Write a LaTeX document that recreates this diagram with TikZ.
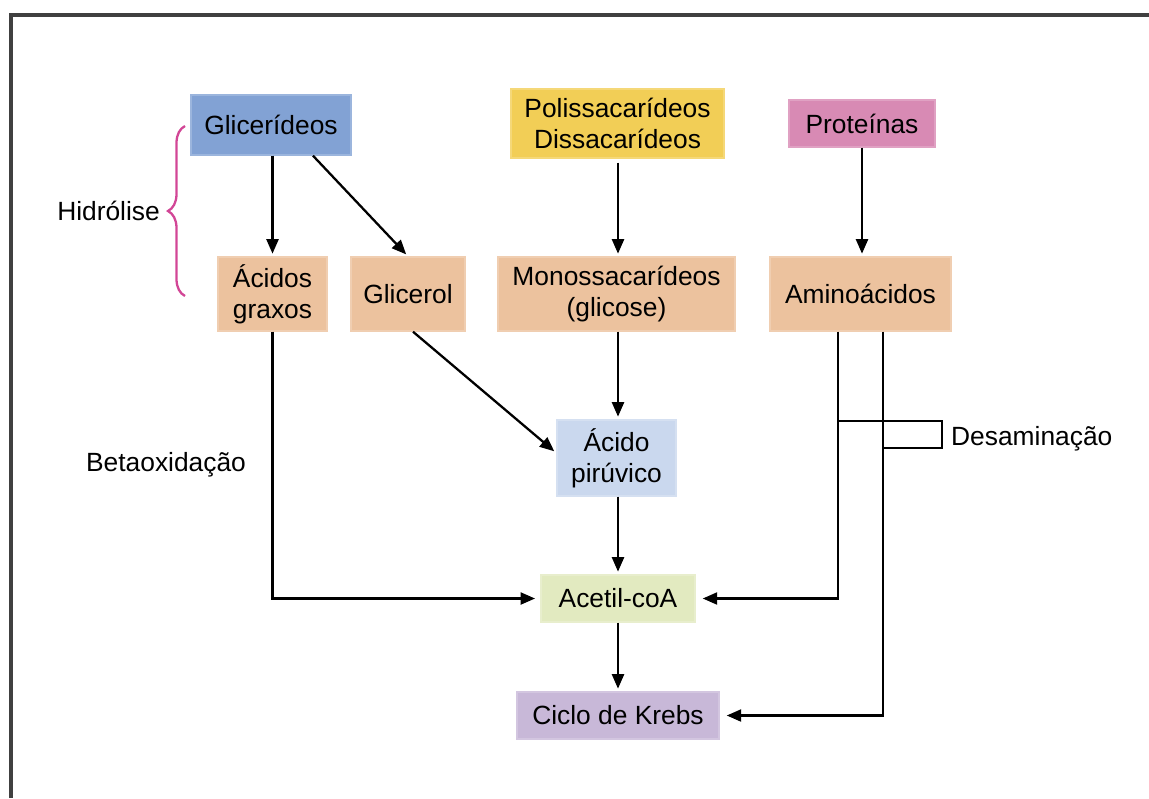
\documentclass[tikz,border=0pt]{standalone}
\usepackage{fontspec}
\setmainfont{Liberation Sans}
\usetikzlibrary{arrows.meta, decorations.pathreplacing}
\definecolor{glicblue}{RGB}{130,162,212}
\definecolor{poliyellow}{RGB}{242,206,86}
\definecolor{protpink}{RGB}{216,138,180}
\definecolor{monotan}{RGB}{236,194,158}
\definecolor{pirublue}{RGB}{202,216,238}
\definecolor{acetgreen}{RGB}{226,234,192}
\definecolor{krebslav}{RGB}{200,184,216}
\definecolor{bracemag}{RGB}{210,70,150}

\begin{document}
\begin{tikzpicture}[x=0.02cm, y=-0.02cm, >={Triangle[length=2.9mm,width=2.4mm]},
  box/.style={rectangle, draw=#1!80!white, line width=0.8pt, fill=#1, align=center,
    inner sep=0pt, font=\fontsize{15}{17.5}\selectfont},
  flow/.style={->, line width=1.3pt, shorten >=1.5pt},
  lbl/.style={font=\fontsize{15}{17.5}\selectfont}]
  \useasboundingbox (0,0) rectangle (1149,798);
  % frame
  \draw[line width=2.2pt, black!75] (11,798) -- (11,15) -- (1149,15);
  % sources
  \node[box=glicblue, minimum width=3.2cm, minimum height=1.2cm] (glic) at (271,125) {Glicerídeos};
  \node[box=poliyellow, minimum width=4.26cm, minimum height=1.38cm] (poli) at (617.5,123.5) {Polissacarídeos\\Dissacarídeos};
  \node[box=protpink, minimum width=2.92cm, minimum height=0.94cm] (prot) at (862,123.5) {Proteínas};
  % products of hydrolysis
  \node[box=monotan, minimum width=2.18cm, minimum height=1.48cm] (acgr) at (272.5,294) {Ácidos\\graxos};
  \node[box=monotan, minimum width=2.28cm, minimum height=1.48cm] (glicerol) at (408,294) {Glicerol};
  \node[box=monotan, minimum width=4.74cm, minimum height=1.48cm] (mono) at (616.5,294) {Monossacarídeos\\(glicose)};
  \node[box=monotan, minimum width=3.62cm, minimum height=1.48cm] (amino) at (860.5,294) {Aminoácidos};
  % central pathway
  \node[box=pirublue, minimum width=2.38cm, minimum height=1.52cm] (piru) at (616.5,458) {Ácido\\pirúvico};
  \node[box=acetgreen, minimum width=3.08cm, minimum height=0.94cm] (acetil) at (618,598.5) {Acetil-coA};
  \node[box=krebslav, minimum width=4.04cm, minimum height=0.94cm] (krebs) at (618,715.5) {Ciclo de Krebs};
  % labels
  \node[lbl, anchor=east] (hidro) at (166,211) {Hidrólise};
  \node[lbl] (beta) at (166,465) {Betaoxidação};
  \node[lbl, anchor=west] (desam) at (945,439) {Desaminação};
  % brace
  \draw[bracemag, line width=1.3pt, decorate, decoration={brace, amplitude=0.34cm}] (185,296) -- (185,126);
  % arrows
  \draw[flow] (glic.south -| acgr.north) -- (acgr.north);
  \draw[flow] ([xshift=0.84cm]glic.south) -- (glicerol.north);
  \draw[flow] ([yshift=-0.08cm]poli.south -| acetil) -- (mono.north -| acetil);
  \draw[flow] (prot.south) -- (prot.south |- amino.north);
  \draw[flow] ([xshift=0.1cm]glicerol.south) -- ([yshift=0.1cm]piru.west);
  \draw[flow] (mono.south -| acetil) -- (piru.north -| acetil);
  \draw[flow] (piru.south -| acetil) -- (acetil.north);
  \draw[flow] (acetil.south) -- (krebs.north);
  \draw[flow, shorten >=3pt] (acgr.south) |- (acetil.west);
  % deamination branches
  \coordinate (aml) at ([xshift=-0.45cm]amino.south);
  \coordinate (amr) at ([xshift=0.45cm]amino.south);
  \coordinate (dsa) at (942,421);
  \coordinate (dsb) at (942,448);
  \draw[flow, shorten >=4pt] (aml) |- (acetil.east);
  \draw[flow, shorten >=4pt] (amr) |- (krebs.east);
  \draw[line width=1.3pt] (aml |- dsa) -- (dsa) -- (dsb) -- (amr |- dsb);
\end{tikzpicture}
\end{document}
